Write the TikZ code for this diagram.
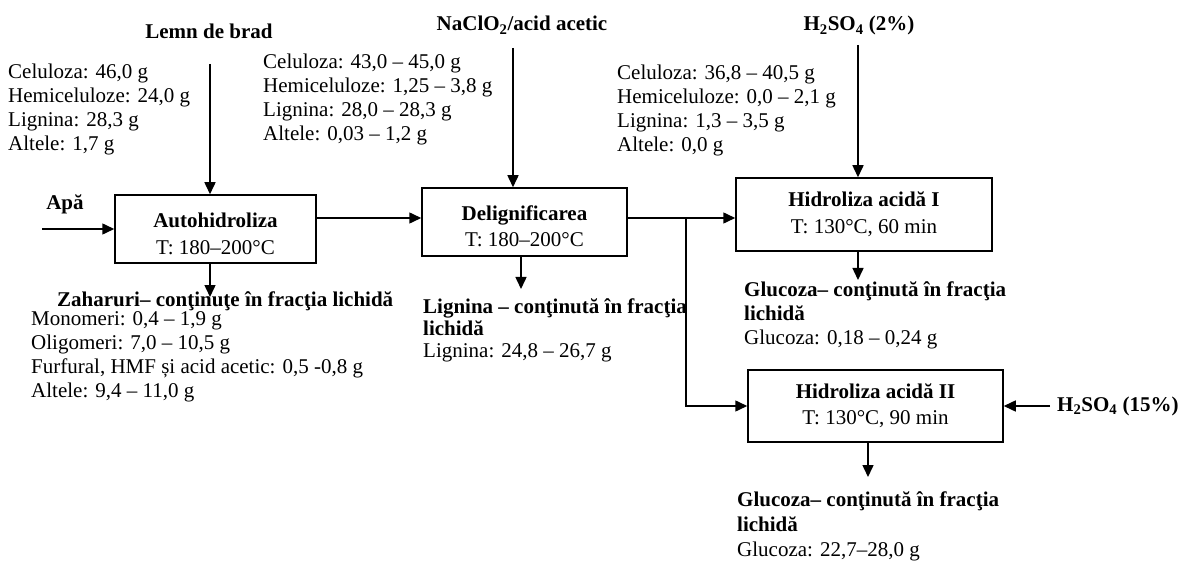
\documentclass[tikz,border=0pt]{standalone}
\usepackage{fontspec}
\setmainfont{Liberation Serif}
\usetikzlibrary{arrows.meta,positioning,calc}
\newcommand{\flowfont}{\fontsize{21pt}{24pt}\selectfont}

\begin{document}
\begin{tikzpicture}[
    x=1pt, y=-1pt,
    proc/.style={rectangle, draw, line width=1.5pt, align=center, inner sep=0pt, font=\flowfont},
    feed/.style={inner sep=0pt, anchor=base, font=\flowfont\bfseries},
    comp/.style={inner sep=0pt, anchor=base west, align=left, font=\flowfont},
    arrow/.style={-{Triangle[length=12pt, width=11pt]}, line width=1.5pt}
]
    \useasboundingbox (0,0) rectangle (1188,561);

    % Process steps
    \node[proc, minimum width=201pt, minimum height=68pt] (auto) at (215.5,229) {\rule{0pt}{24pt}\textbf{Autohidroliza}\\[3pt]T: 180–200°C};
    \node[proc, minimum width=205pt, minimum height=68pt] (delig) at (524.5,222) {\rule{0pt}{23pt}\textbf{Delignificarea}\\[2pt]T: 180–200°C};
    \node[proc, minimum width=256pt, minimum height=73pt] (hidI) at (864,214.5) {\textbf{Hidroliza acidă I}\\[3pt]T: 130°C, 60 min};
    \node[proc, minimum width=255pt, minimum height=72pt] (hidII) at (875.5,406) {\textbf{Hidroliza acidă II}\\[2pt]T: 130°C, 90 min};

    % Feeds
    \node[feed] (lemn) at (209,39) {Lemn de brad};
    \node[feed] (apa) at (65,210) {Apă};
    \node[feed] (nacl) at (522,31) {NaClO\textsubscript{2}/acid acetic};
    \node[feed] (h2a) at (859,31) {H\textsubscript{2}SO\textsubscript{4} (2\%)};
    \node[feed, anchor=base west] (h2b) at (1057,411) {H\textsubscript{2}SO\textsubscript{4} (15\%)};

    % Compositions (placed at the baseline of the last line)
    \node[comp] (lemncomp) at (8,151) {Celuloza: 46,0 g\\Hemiceluloze: 24,0 g\\Lignina: 28,3 g\\Altele: 1,7 g};
    \node[comp] (deligcomp) at (263,141) {Celuloza: 43,0 – 45,0 g\\Hemiceluloze: 1,25 – 3,8 g\\Lignina: 28,0 – 28,3 g\\Altele: 0,03 – 1,2 g};
    \node[comp] (hidcomp) at (617,152) {Celuloza: 36,8 – 40,5 g\\Hemiceluloze: 0,0 – 2,1 g\\Lignina: 1,3 – 3,5 g\\Altele: 0,0 g};

    % Products
    \node[comp, font=\flowfont\bfseries] (zahtitle) at (57,306) {Zaharuri– conţinuţe în fracţia lichidă};
    \node[comp] (zahcomp) at (31,397) {Monomeri: 0,4 – 1,9 g\\Oligomeri: 7,0 – 10,5 g\\Furfural, HMF și acid acetic: 0,5 -0,8 g\\Altele: 9,4 – 11,0 g};
    \node[comp] (lignout) at (423,357) {\textbf{Lignina – conţinută în fracţia}\\[-2pt]\textbf{lichidă}\\[-2pt]Lignina: 24,8 – 26,7 g};
    \node[comp] (glu1) at (744,344) {\textbf{Glucoza– conţinută în fracţia}\\\textbf{lichidă}\\Glucoza: 0,18 – 0,24 g};
    \node[comp] (glu2) at (737,556) {\textbf{Glucoza– conţinută în fracţia}\\[1pt]\textbf{lichidă}\\[1pt]Glucoza: 22,7–28,0 g};

    % Arrow ends
    \coordinate (lemnin) at (210,64);
    \coordinate (apain) at (42,229);
    \coordinate (naclin) at (513,48);
    \coordinate (h2ain) at (858,45);
    \coordinate (h2bin) at (1050,406);
    \coordinate (autoout) at (210,297);
    \coordinate (deligout) at (521,289);
    \coordinate (hidIout) at (858,280);
    \coordinate (hidIIout) at (868,477);
    \coordinate (split) at (686,218);

    % Arrows
    \draw[arrow] (lemnin) -- (lemnin |- auto.north);
    \draw[arrow] (apain) -- (auto.west);
    \draw[arrow] (naclin) -- (naclin |- delig.north);
    \draw[arrow] (h2ain) -- (h2ain |- hidI.north);
    \draw[arrow] (h2bin) -- (hidII.east);
    \draw[arrow] ([yshift=11pt]auto.east) -- ([yshift=11pt]auto.east -| delig.west);
    \draw[arrow] ([yshift=4pt]delig.east) -- ([yshift=4pt]delig.east -| hidI.west);
    \draw[arrow] (split) |- (hidII.west);
    \draw[arrow] (autoout |- auto.south) -- (autoout);
    \draw[arrow] (deligout |- delig.south) -- (deligout);
    \draw[arrow] (hidIout |- hidI.south) -- (hidIout);
    \draw[arrow] (hidIIout |- hidII.south) -- (hidIIout);
\end{tikzpicture}
\end{document}
